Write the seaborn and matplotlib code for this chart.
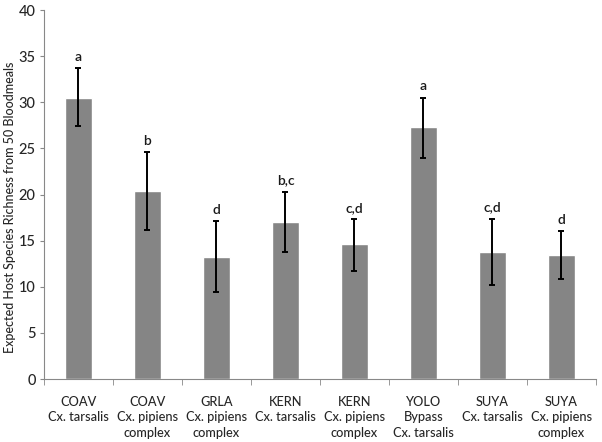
import matplotlib
matplotlib.use("Agg")
import matplotlib.pyplot as plt
import seaborn as sns
import numpy as np
import pandas as pd

categories = ["COAV\nCx. tarsalis", "COAV\nCx. pipiens\ncomplex", "GRLA\nCx. pipiens\ncomplex",
              "KERN\nCx. tarsalis", "KERN\nCx. pipiens\ncomplex", "YOLO\nBypass\nCx. tarsalis",
              "SUYA\nCx. tarsalis", "SUYA\nCx. pipiens\ncomplex"]
values = [30.5, 20.4, 13.2, 17.0, 14.6, 27.3, 13.8, 13.4]
err_upper = [33.7, 24.6, 17.1, 20.3, 17.3, 30.5, 17.4, 16.0]
err_lower = [27.4, 16.2, 9.4, 13.8, 11.7, 24.0, 10.2, 10.8]
letters = ["a", "b", "d", "b,c", "c,d", "a", "c,d", "d"]
ylabel = "Expected Host Species Richness from 50 Bloodmeals"

sns.set_style("white")
plt.rcParams['font.family'] = ['Lato', 'DejaVu Sans']

df = pd.DataFrame({"cat": categories, "val": values})
fig = plt.figure(figsize=(6.02, 4.42), dpi=100)
ax = fig.add_axes([0.073, 0.1425, 0.917, 0.8345])
sns.barplot(data=df, x="cat", y="val", color="#858585", saturation=1, width=0.4, ax=ax, errorbar=None)

x = np.arange(len(categories))
v = np.array(values)
yerr = np.vstack([v - np.array(err_lower), np.array(err_upper) - v])
ax.errorbar(x, v, yerr=yerr, fmt="none", ecolor="black", elinewidth=1.4, capsize=2.2, capthick=1.4)
for xi, top, lab in zip(x, err_upper, letters):
    ax.text(xi, top + 0.6, lab, ha="center", va="bottom", fontsize=10, color="#1a1a1a",
            fontweight="semibold")

ax.set_xlim(-0.5, len(categories) - 0.5)
ax.set_ylim(0, 40)
ax.set_yticks(range(0, 41, 5))
ax.set_xlabel("")
ax.set_ylabel("")
fig.text(10 / 602, 0.5 + 0.03, ylabel, rotation=90, ha="center", va="center",
         fontsize=9, fontweight="medium")
ax.tick_params(axis="y", labelsize=10.5, length=3, pad=3, direction="out", color="#888888", left=True)
ax.tick_params(axis="x", which="major", length=0, labelsize=9.2, pad=12)
ax.set_xticks(np.arange(-0.5, len(categories), 1), minor=True)
ax.tick_params(axis="x", which="minor", length=4, direction="out", color="#888888", bottom=True)
for s in ["top", "right"]:
    ax.spines[s].set_visible(False)
for s in ["left", "bottom"]:
    ax.spines[s].set_color("#888888")
    ax.spines[s].set_linewidth(0.8)
for t in ax.get_xticklabels() + ax.get_yticklabels():
    t.set_fontweight("medium")
for t in ax.get_xticklabels():
    t.set_linespacing(1.35)

fig.savefig("out.png", dpi=100)
